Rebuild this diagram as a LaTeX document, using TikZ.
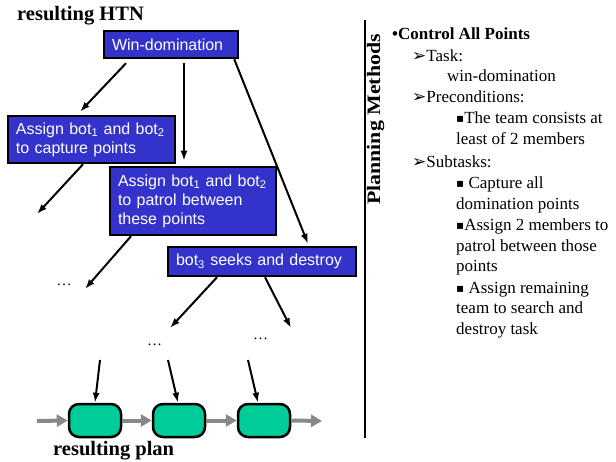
\documentclass[tikz,border=0pt]{standalone}
\usepackage{fontspec}
\setmainfont{Liberation Serif}
\newfontfamily\arialf{Liberation Sans}
\newfontfamily\symf{DejaVu Sans}
\usetikzlibrary{arrows.meta,calc}
\definecolor{boxblue}{HTML}{3333CC}
\definecolor{plangreen}{HTML}{00CC99}
\definecolor{flowgray}{HTML}{888888}
\newcommand{\arrbul}{{\symf\fontsize{17}{18}\selectfont\raisebox{0pt}{➢}}}
\newcommand{\sqbul}{{\symf\fontsize{12}{12}\selectfont\raisebox{1pt}{▪}}}
\begin{document}
\begin{tikzpicture}[x=1pt,y=-1pt,
  taskbox/.style={draw=black,line width=2.5pt,fill=boxblue,text=white,
    font=\arialf\fontsize{16}{19}\selectfont,align=left,inner xsep=8pt,inner ysep=0pt},
  plannode/.style={draw=black,line width=2.5pt,fill=plangreen,rounded corners=10pt,
    minimum width=52pt,minimum height=33pt,inner sep=0pt},
  arr/.style={-{Latex[length=10pt,width=7pt]},line width=2pt},
  garr/.style={-{Triangle[length=11pt,width=12pt]},line width=4pt,draw=flowgray},
  ttl/.style={anchor=base west,inner sep=0pt,font=\bfseries\fontsize{20.5}{24}\selectfont},
  rt/.style={anchor=base west,inner sep=0pt,font=\fontsize{17}{20}\selectfont},
  dotsn/.style={anchor=base,inner sep=0pt,font=\fontsize{15}{16}\selectfont}]
\path[use as bounding box] (0,0) rectangle (616,462);

% titles
\node[ttl] (htn) at (17,21) {resulting HTN};
\node[ttl] (rplan) at (53,455) {resulting plan};

% task boxes
\node[taskbox,minimum width=134pt,minimum height=27pt,text width=118pt] (win) at (171,44.5) {Win-domination};
\node[taskbox,minimum width=167pt,minimum height=47pt,text width=151pt] (cap) at (91.5,139.5)
  {Assign bot\textsubscript{1} and bot\textsubscript{2}\\to capture points};
\node[taskbox,minimum width=166pt,minimum height=68pt,text width=150pt] (pat) at (193,201)
  {Assign bot\textsubscript{1} and bot\textsubscript{2}\\to patrol between\\these points};
\node[taskbox,minimum width=188pt,minimum height=29pt,text width=172pt] (sd) at (262,261.5)
  {bot\textsubscript{3} seeks and destroy};

% free ends
\coordinate (d1) at (37,214);
\coordinate (d2) at (85,289);
\coordinate (d3) at (170,328);
\coordinate (d4) at (291,328);
\coordinate (s1) at (100,360);
\coordinate (s2) at (168,360);
\coordinate (s3) at (248,360);
\coordinate (g0) at (37,421);
\coordinate (g4) at (322,421);

% ellipses
\node[dotsn] (e1) at (64,286) {\dots};
\node[dotsn] (e2) at (154.5,345) {\dots};
\node[dotsn] (e3) at (260.5,340) {\dots};

% HTN connectors
\draw[arr] ([xshift=-45pt,yshift=-4pt]win.south) -- ([xshift=-11.5pt,yshift=3pt]cap.north);
\draw[arr] ([xshift=13pt,yshift=-4pt]win.south) -- ([xshift=-9pt,yshift=5pt]pat.north);
\draw[arr] ([xshift=-5pt]win.south east) -- ([xshift=46pt,yshift=2pt]sd.north);
\draw[arr] ([xshift=-8.5pt]cap.south) -- (d1);
\draw[arr] ([xshift=-62pt]pat.south) -- (d2);
\draw[arr] ([xshift=-45pt]sd.south) -- (d3);
\draw[arr] ([xshift=3pt]sd.south) -- (d4);

% plan
\node[plannode] (p1) at (95,420.5) {};
\node[plannode] (p2) at (179,420.5) {};
\node[plannode] (p3) at (264,420.5) {};
\draw[arr] (s1) -- (p1.north);
\draw[arr] (s2) -- ([xshift=-1pt]p2.north);
\draw[arr] (s3) -- ([xshift=-6pt]p3.north);
\draw[garr] (g0) -- (p1.west);
\draw[garr] (p1.east) -- (p2.west);
\draw[garr] (p2.east) -- (p3.west);
\draw[garr] (p3.east) -- (g4);

% separator
\draw[line width=2.5pt] (365,20) -- (365,438);

% planning methods
\node[rotate=90,anchor=base,inner sep=0pt,font=\bfseries\fontsize{19}{22}\selectfont] (pm) at (380,119.5)
  {\scalebox{1.15}[1]{Planning Methods}};

% right text
\node[rt] (r1) at (392,40) {\textbf{•Control All Points}};
\node[rt] (r2) at (412,62) {\arrbul Task:};
\node[rt] (r3) at (447,82) {win-domination};
\node[rt] (r4) at (412,103) {\arrbul Preconditions:};
\node[rt] (r5) at (456,124) {\sqbul The team consists at};
\node[rt] (r6) at (456,145) {least of 2 members};
\node[rt] (r7) at (412,168) {\arrbul Subtasks:};
\node[rt] (r8) at (456,189) {\sqbul\ Capture all};
\node[rt] (r9) at (456,210) {domination points};
\node[rt] (r10) at (456,231) {\sqbul Assign 2 members to};
\node[rt] (r11) at (456,252) {patrol between those};
\node[rt] (r12) at (456,272) {points};
\node[rt] (r13) at (456,294) {\sqbul\ Assign remaining};
\node[rt] (r14) at (456,314) {team to search and};
\node[rt] (r15) at (456,335) {destroy task};
\end{tikzpicture}
\end{document}
